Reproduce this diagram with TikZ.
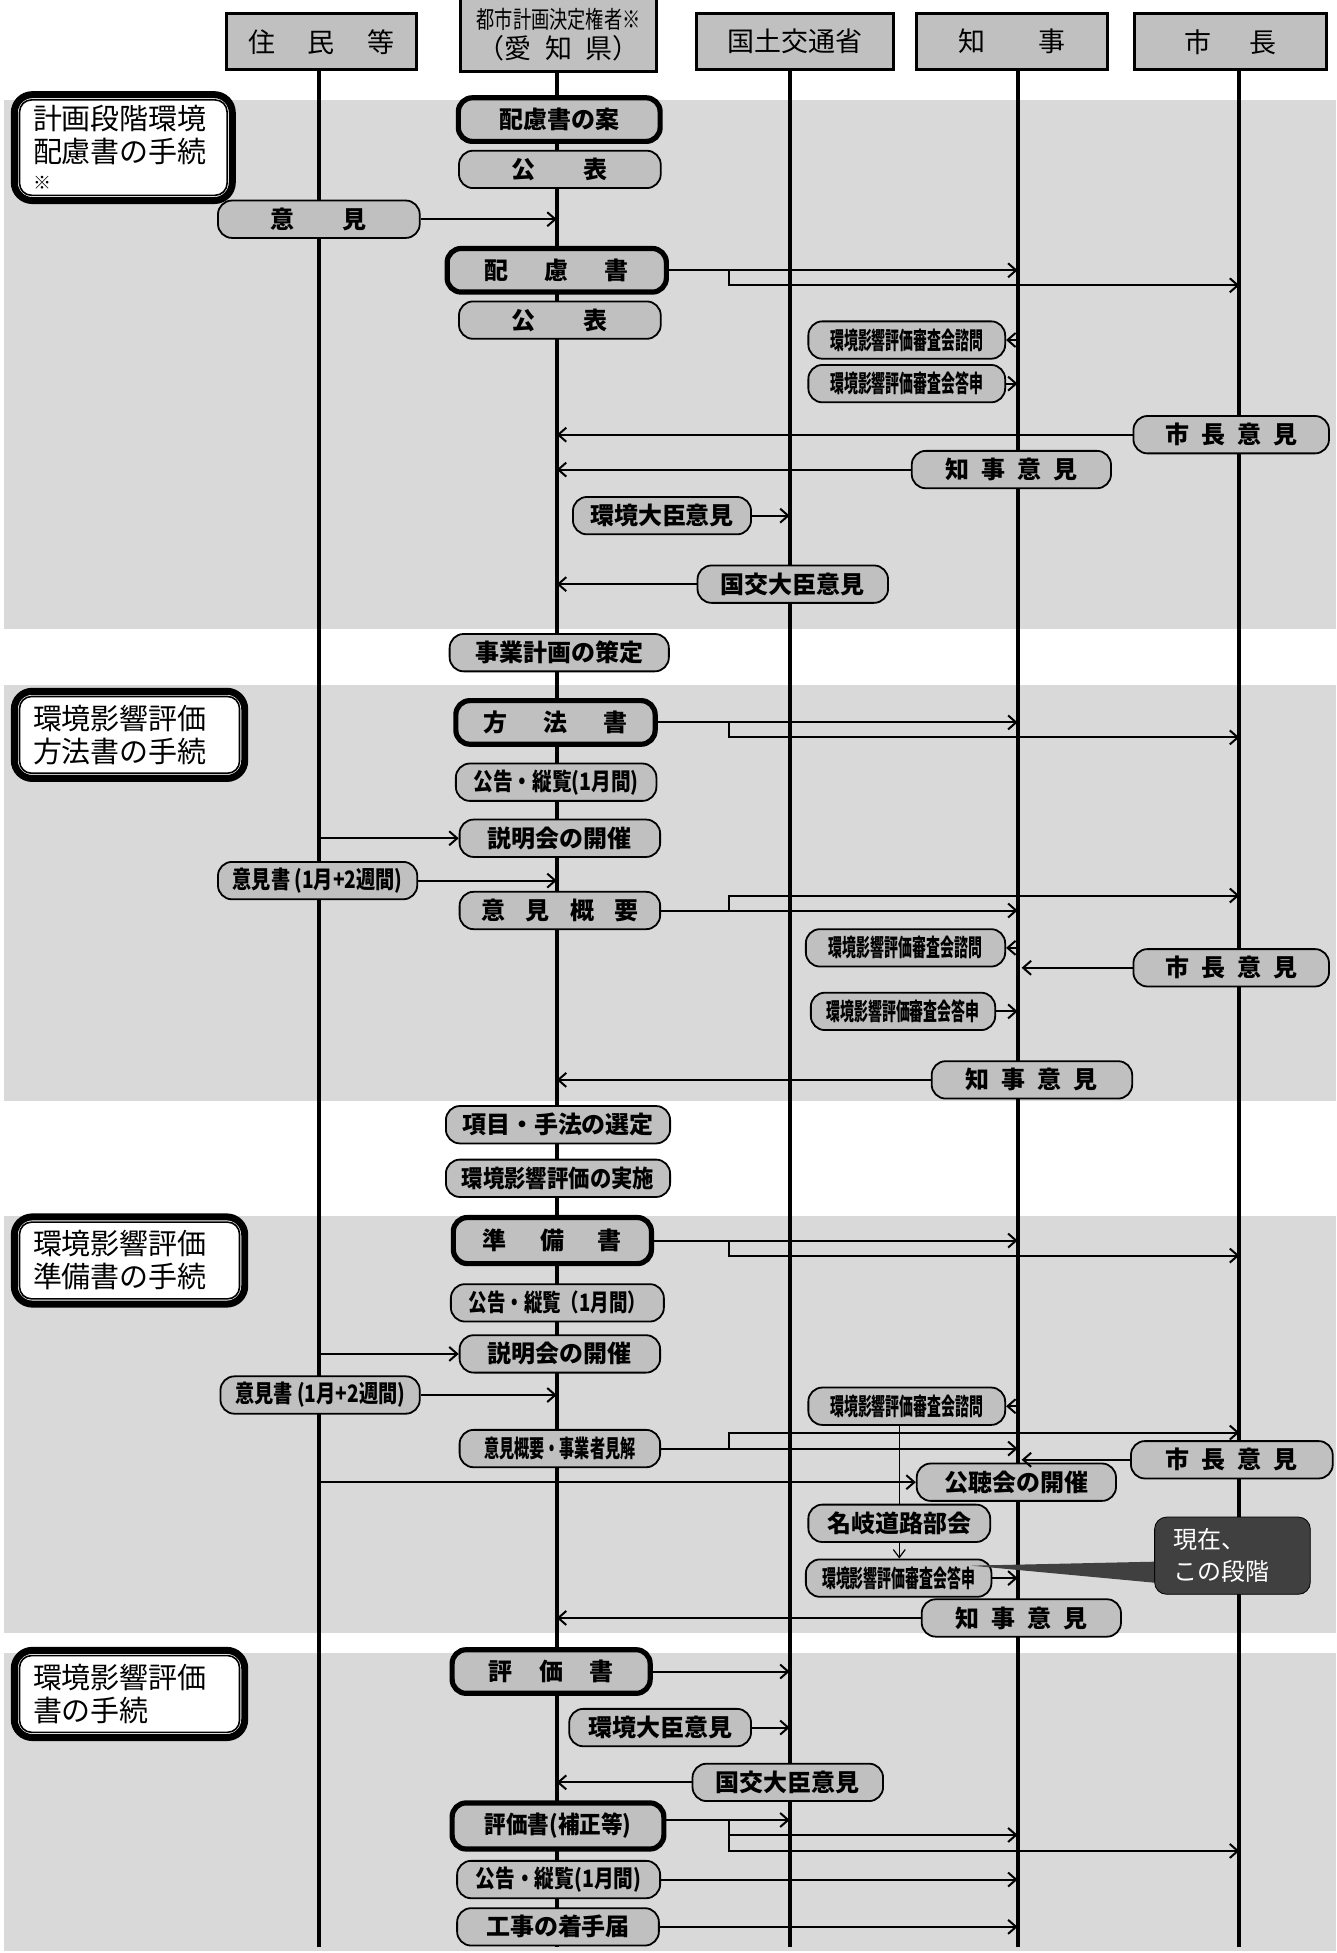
\documentclass[tikz,border=0pt]{standalone}
\usepackage{fontspec}
\usepackage{graphicx}
\setmainfont{Noto Sans CJK JP}
\usetikzlibrary{arrows.meta}

\definecolor{bandgray}{HTML}{D9D9D9}
\definecolor{boxgray}{HTML}{C0C0C0}
\definecolor{calloutgray}{HTML}{404040}

\newdimen\upx
\upx=0.623pt
\newcommand{\cnd}[2]{\scalebox{#1}[1]{#2}}

\tikzset{
  lifeline/.style={line width=1.9pt},
  header/.style={draw, line width=1.5pt, fill=boxgray, minimum height=45\upx, inner sep=0pt, font=\fontsize{13.5}{15}\selectfont},
  proc/.style={draw, line width=0.9pt, fill=boxgray, rounded corners=7pt, minimum height=30\upx, inner sep=1pt, font=\fontsize{12}{14}\selectfont\bfseries},
  keydoc/.style={proc, line width=2.6pt, minimum height=35\upx},
  stage/.style={draw, line width=3.5pt, fill=white, rounded corners=9pt, align=left, inner ysep=0pt, font=\fontsize{14.5}{16.5}\selectfont},
  pw/.style={minimum width=#1\upx},
  arr/.style={line width=1pt, -{Straight Barb[length=4pt,width=7pt,line width=1pt]}},
  thinarr/.style={line width=0.6pt, -{Straight Barb[length=4pt,width=6pt,line width=0.6pt]}},
}

\begin{document}
\begin{tikzpicture}[x=0.623pt, y=-0.623pt]
  \useasboundingbox (0,0) rectangle (1073,1568);
  \fill[white] (0,0) rectangle (1073,1568);
  % stage bands
  \fill[bandgray] (3,80) rectangle (1073,505);
  \fill[bandgray] (3,550) rectangle (1073,884);
  \fill[bandgray] (3,976) rectangle (1073,1311);
  \fill[bandgray] (3,1327) rectangle (1073,1566);

  % lifelines
  \foreach \n/\x in {1/256,2/447,3/634,4/817,5/995} {
    \coordinate (L\n) at (\x,50);
    \coordinate (B\n) at (\x,1563);
    \draw[lifeline] (L\n) -- (B\n);
  }
  \coordinate (br) at (585,0);

  % headers
  \node[header, pw=152] (jumin) at (258,33.5) {住\hspace{1.2em}民\hspace{1.2em}等};
  \node[header, pw=157, minimum height=58\upx, align=center] (toshi) at (448.5,28)
    {{\fontsize{12}{15}\selectfont\cnd{0.76}{都市計画決定権者※}}\\（愛\hspace{.5em}知\hspace{.5em}県）};
  \node[header, pw=158] (kokko) at (638,33.5) {国土交通省};
  \node[header, pw=153] (chiji) at (812.5,33.5) {知\hspace{2em}事};
  \node[header, pw=154] (shicho) at (988,33.5) {市\hspace{1.4em}長};

  % stage labels
  \node[stage, text width=145\upx, inner xsep=15\upx, minimum height=85\upx] (stA) at (99,118.5)
    {計画段階環境\\配慮書の手続\\[-3pt]{\fontsize{9}{9}\selectfont ※}};
  \node[stage, text width=155\upx, inner xsep=15\upx, minimum height=70\upx] (stB) at (104,590)
    {環境影響評価\\方法書の手続};
  \node[stage, text width=155\upx, inner xsep=15\upx, minimum height=70\upx] (stC) at (104,1012)
    {環境影響評価\\準備書の手続};
  \node[stage, text width=155\upx, inner xsep=15\upx, minimum height=70\upx] (stD) at (104,1360)
    {環境影響評価\\書の手続};
  \foreach \s in {stA,stB,stC,stD}
    \draw[line width=0.8pt, rounded corners=6pt] ([shift={(7,7)}]\s.north west) rectangle ([shift={(-7,-7)}]\s.south east);

  % 配慮書
  \node[keydoc, pw=162] (anD) at (449,96) {配慮書の案};
  \node[proc, pw=162] (kohyoA) at (449.5,136) {公\hspace{2em}表};
  \node[proc, pw=162] (ikenA) at (256,176) {意\hspace{2em}見};
  \node[keydoc, pw=176] (hairyo) at (447,217) {配\hspace{1.5em}慮\hspace{1.5em}書};
  \node[proc, pw=162] (kohyoB) at (449.5,257) {公\hspace{2em}表};
  \node[proc, pw=158] (shimonA) at (728,273) {\cnd{0.58}{環境影響評価審査会諮問}};
  \node[proc, pw=158] (toshinA) at (728,308) {\cnd{0.58}{環境影響評価審査会答申}};
  \node[proc, pw=157] (shichoA) at (988.5,349) {市\hspace{.5em}長\hspace{.5em}意\hspace{.5em}見};
  \node[proc, pw=160] (chijiA) at (812,377) {知\hspace{.5em}事\hspace{.5em}意\hspace{.5em}見};
  \node[proc, pw=143] (kankyoA) at (531.5,414) {環境大臣意見};
  \node[proc, pw=153] (kokkoA) at (636.5,469) {国交大臣意見};
  \node[proc, pw=176] (jigyo) at (449,524) {事業計画の策定};

  % 方法書
  \node[keydoc, pw=160] (hoho) at (446,580) {方\hspace{1.5em}法\hspace{1.5em}書};
  \node[proc, pw=161] (jurA) at (446.5,628) {\cnd{0.82}{公告・縦覧(1月間)}};
  \node[proc, pw=161] (setsuA) at (449.5,673) {説明会の開催};
  \node[proc, pw=160] (ikenshoA) at (255,707) {\cnd{0.8}{意見書 (1月+2週間)}};
  \node[proc, pw=161] (gaiyoA) at (449.5,731) {意\hspace{.85em}見\hspace{.85em}概\hspace{.85em}要};
  \node[proc, pw=160] (shimonB) at (727,761) {\cnd{0.58}{環境影響評価審査会諮問}};
  \node[proc, pw=157] (shichoB) at (988.5,777) {市\hspace{.5em}長\hspace{.5em}意\hspace{.5em}見};
  \node[proc, pw=148] (toshinB) at (725,812) {\cnd{0.58}{環境影響評価審査会答申}};
  \node[proc, pw=161] (chijiB) at (828.5,867) {知\hspace{.5em}事\hspace{.5em}意\hspace{.5em}見};
  \node[proc, pw=180] (komoku) at (448,903) {項目・手法の選定};
  \node[proc, pw=180] (jisshi) at (448,946) {\cnd{0.89}{環境影響評価の実施}};

  % 準備書
  \node[keydoc, pw=159, minimum height=37\upx] (junbi) at (443.5,996) {準\hspace{1.4em}備\hspace{1.4em}書};
  \node[proc, pw=171] (jurB) at (447.5,1046) {\cnd{0.77}{公告・縦覧（1月間）}};
  \node[proc, pw=161] (setsuB) at (449.5,1087) {説明会の開催};
  \node[proc, pw=160] (ikenshoB) at (257,1120) {\cnd{0.8}{意見書 (1月+2週間)}};
  \node[proc, pw=158] (shimonC) at (728,1129) {\cnd{0.58}{環境影響評価審査会諮問}};
  \node[proc, pw=161] (gaiyoB) at (449.5,1163) {\cnd{0.63}{意見概要・事業者見解}};
  \node[proc, pw=162] (shichoC) at (989,1172) {市\hspace{.5em}長\hspace{.5em}意\hspace{.5em}見};
  \node[proc, pw=160] (kocho) at (816,1190) {公聴会の開催};
  \node[proc, pw=146] (meigi) at (722,1223) {名岐道路部会};
  \node[proc, pw=149] (toshinC) at (721.5,1267) {\cnd{0.58}{環境影響評価審査会答申}};
  \node[proc, pw=160] (chijiC) at (820,1299) {知\hspace{.5em}事\hspace{.5em}意\hspace{.5em}見};

  % 評価書
  \node[keydoc, pw=159] (hyoka) at (442.5,1342) {評\hspace{1.1em}価\hspace{1.1em}書};
  \node[proc, pw=146] (kankyoB) at (530,1387) {環境大臣意見};
  \node[proc, pw=153] (kokkoB) at (632.5,1431) {国交大臣意見};
  \node[keydoc, pw=170, minimum height=37\upx] (hosei) at (448,1466) {\cnd{0.9}{評価書(補正等)}};
  \node[proc, pw=163] (jurC) at (448.5,1509) {\cnd{0.82}{公告・縦覧(1月間)}};
  \node[proc, pw=162] (chakushu) at (448,1547) {工事の着手届};

  % callout
  \node[draw, fill=calloutgray, rounded corners=6pt, text=white, align=left,
        text width=95\upx, inner xsep=15\upx, minimum height=62\upx,
        font=\fontsize{12}{16}\selectfont] (now) at (989.5,1249) {現在、\\この段階};
  \coordinate (tipC) at (780,1257);
  \fill[calloutgray] (tipC) -- ([yshift=-3pt]now.west) -- ([yshift=-13.5pt]now.west) -- cycle;

  % connectors
  \draw[arr] (ikenA.east) -- (ikenA.east -| L2);
  \coordinate (hB) at ([yshift=-7.5pt]hairyo.east);
  \draw[arr] (hairyo.east) -- (hairyo.east -| L4);
  \draw[arr] (hairyo.east -| br) |- (hB -| L5);
  \draw[arr] (shimonA.east -| L4) -- (shimonA.east);
  \draw[arr] (toshinA.east) -- (toshinA.east -| L4);
  \draw[arr] (shichoA.west) -- (shichoA.west -| L2);
  \draw[arr] (chijiA.west) -- (chijiA.west -| L2);
  \draw[arr] (kankyoA.east) -- (kankyoA.east -| L3);
  \draw[arr] (kokkoA.west) -- (kokkoA.west -| L2);

  \coordinate (hoB) at ([yshift=-7.5pt]hoho.east);
  \draw[arr] (hoho.east) -- (hoho.east -| L4);
  \draw[arr] (hoho.east -| br) |- (hoB -| L5);
  \draw[arr] (setsuA.west -| L1) -- (setsuA.west);
  \draw[arr] (ikenshoA.east) -- (ikenshoA.east -| L2);
  \coordinate (gA) at ([yshift=7.5pt]gaiyoA.east);
  \draw[arr] (gaiyoA.east) -- (gaiyoA.east -| L4);
  \draw[arr] (gaiyoA.east -| br) |- (gA -| L5);
  \draw[arr] (shimonB.east -| L4) -- (shimonB.east);
  \draw[arr, shorten >=2pt] (shichoB.west) -- (shichoB.west -| L4);
  \draw[arr] (toshinB.east) -- (toshinB.east -| L4);
  \draw[arr] (chijiB.west) -- (chijiB.west -| L2);

  \coordinate (jB) at ([yshift=-7.5pt]junbi.east);
  \draw[arr] (junbi.east) -- (junbi.east -| L4);
  \draw[arr] (junbi.east -| br) |- (jB -| L5);
  \draw[arr] (setsuB.west -| L1) -- (setsuB.west);
  \draw[arr] (ikenshoB.east) -- (ikenshoB.east -| L2);
  \draw[arr] (shimonC.east -| L4) -- (shimonC.east);
  \coordinate (gB) at ([yshift=8pt]gaiyoB.east);
  \draw[arr] (gaiyoB.east) -- (gaiyoB.east -| L4);
  \draw[arr] (gaiyoB.east -| br) |- (gB -| L5);
  \draw[arr, shorten >=2pt] (shichoC.west) -- (shichoC.west -| L4);
  \draw[arr] (kocho.west -| L1) -- (kocho.west);
  \draw[line width=0.6pt] (shimonC.south -| meigi) -- (meigi.north);
  \draw[thinarr] (meigi.south) -- (toshinC.north -| meigi);
  \draw[arr] (toshinC.east) -- (toshinC.east -| L4);
  \draw[arr] (chijiC.west) -- (chijiC.west -| L2);

  \draw[arr] (hyoka.east) -- (hyoka.east -| L3);
  \draw[arr] (kankyoB.east) -- (kankyoB.east -| L3);
  \draw[arr] (kokkoB.west) -- (kokkoB.west -| L2);
  \coordinate (hsA) at ([yshift=3pt]hosei.east);
  \coordinate (hsB) at ([yshift=-4.5pt]hosei.east);
  \coordinate (hsC) at ([yshift=-12.5pt]hosei.east);
  \draw[arr] (hsA) -- (hsA -| L3);
  \draw[arr] (hsA -| br) |- (hsB -| L4);
  \draw[arr] (hsA -| br) |- (hsC -| L5);
  \draw[arr] (jurC.east) -- (jurC.east -| L4);
  \draw[arr] (chakushu.east) -- (chakushu.east -| L4);
\end{tikzpicture}
\end{document}
